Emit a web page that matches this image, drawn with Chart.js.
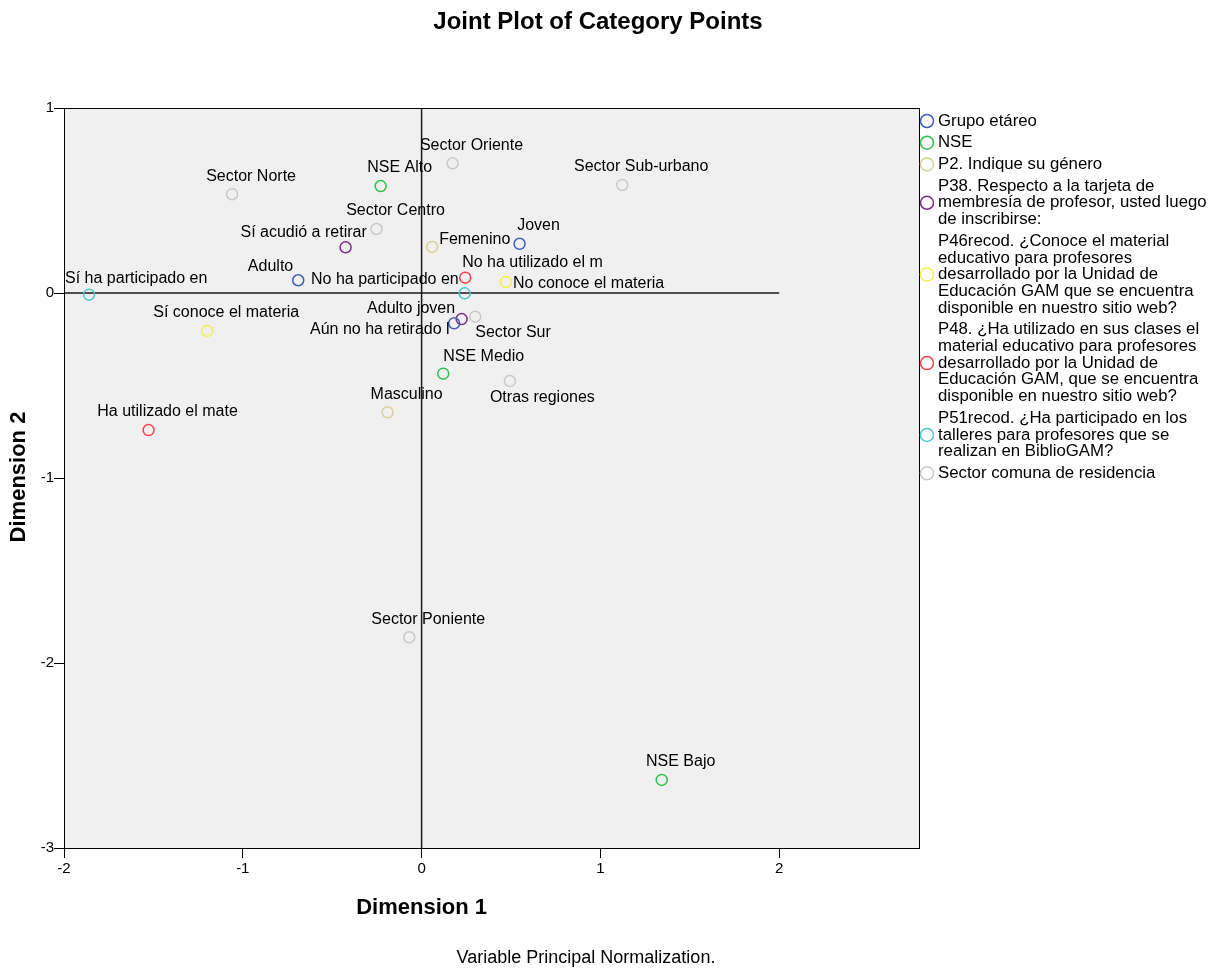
<!DOCTYPE html>
<html>
<head>
<meta charset="utf-8">
<script src="https://cdn.jsdelivr.net/npm/chart.js@4.4.1/dist/chart.umd.min.js"></script>
<style>
  body { margin: 0; background: #fff; }
  #wrap { width: 1217px; height: 969px; }
</style>
</head>
<body>
<div id="wrap"><canvas id="myChart" width="1217" height="969"></canvas></div>
<script>
// category points
const grupoCats = ['Joven', 'Adulto', 'Adulto joven'];
const grupoX = [0.548, -0.690, 0.182];
const grupoY = [0.266, 0.069, -0.164];

const nseCats = ['NSE Alto', 'NSE Medio', 'NSE Bajo'];
const nseX = [-0.229, 0.121, 1.343];
const nseY = [0.578, -0.436, -2.632];

const generoCats = ['Femenino', 'Masculino'];
const generoX = [0.059, -0.190];
const generoY = [0.249, -0.645];

const p38Cats = ['Sí acudió a retirar', 'Aún no ha retirado l'];
const p38X = [-0.425, 0.224];
const p38Y = [0.247, -0.141];

const p46Cats = ['Sí conoce el materia', 'No conoce el materia'];
const p46X = [-1.199, 0.472];
const p46Y = [-0.205, 0.059];

const p48Cats = ['Ha utilizado el mate', 'No ha utilizado el m'];
const p48X = [-1.527, 0.244];
const p48Y = [-0.741, 0.083];

const p51Cats = ['Sí ha participado en', 'No ha participado en'];
const p51X = [-1.860, 0.241];
const p51Y = [-0.009, -0.002];

const sectorCats = ['Sector Norte', 'Sector Oriente', 'Sector Sub-urbano', 'Sector Centro', 'Sector Sur', 'Otras regiones', 'Sector Poniente'];
const sectorX = [-1.060, 0.173, 1.122, -0.252, 0.300, 0.494, -0.069];
const sectorY = [0.534, 0.701, 0.584, 0.346, -0.128, -0.476, -1.861];

const groupNames = [
  ['Grupo etáreo'],
  ['NSE'],
  ['P2. Indique su género'],
  ['P38. Respecto a la tarjeta de', 'membresía de profesor, usted luego', 'de inscribirse:'],
  ['P46recod. ¿Conoce el material', 'educativo para profesores', 'desarrollado por la Unidad de', 'Educación GAM que se encuentra', 'disponible en nuestro sitio web?'],
  ['P48. ¿Ha utilizado en sus clases el', 'material educativo para profesores', 'desarrollado por la Unidad de', 'Educación GAM, que se encuentra', 'disponible en nuestro sitio web?'],
  ['P51recod. ¿Ha participado en los', 'talleres para profesores que se', 'realizan en BiblioGAM?'],
  ['Sector comuna de residencia']
];

const xTicks = [-2, -1, 0, 1, 2];
const yTicks = [1, 0, -1, -2, -3];

const colors = ['#3f5dbd', '#2fbf4c', '#d8cf98', '#7b2c86', '#f6f04e', '#f0424c', '#4dc6cb', '#c9c9c9'];
const FONT = "'Liberation Sans', Arial, sans-serif";

// where each label sits relative to its point (pixels)
const labelDefault = { align: 'center', dx: 19, dy: -18 };
const labelPlace = {
  'Adulto': { align: 'right', dx: -5, dy: -14 },
  'Adulto joven': { align: 'right', dx: 1, dy: -15 },
  'Aún no ha retirado l': { align: 'right', dx: -12, dy: 11 },
  'Sí acudió a retirar': { align: 'center', dx: -42, dy: -15 },
  'No ha participado en': { align: 'right', dx: -6, dy: -14 },
  'NSE Medio': { align: 'left', dx: 0, dy: -17 },
  'Femenino': { align: 'left', dx: 7, dy: -7 },
  'No conoce el materia': { align: 'left', dx: 7, dy: 2 },
  'No ha utilizado el m': { align: 'left', dx: -3, dy: -15 },
  'Sí ha participado en': { align: 'left', dx: -24, dy: -16 },
  'Sector Sur': { align: 'left', dx: 0, dy: 16 },
  'Otras regiones': { align: 'left', dx: -20, dy: 17 }
};

const groups = [
  [grupoCats, grupoX, grupoY],
  [nseCats, nseX, nseY],
  [generoCats, generoX, generoY],
  [p38Cats, p38X, p38Y],
  [p46Cats, p46X, p46Y],
  [p48Cats, p48X, p48Y],
  [p51Cats, p51X, p51Y],
  [sectorCats, sectorX, sectorY]
];

const datasets = groups.map((g, i) => ({
  label: groupNames[i].join(' '),
  cats: g[0],
  data: g[1].map((x, j) => ({ x: x, y: g[2][j] })),
  borderColor: colors[i],
  backgroundColor: 'rgba(0,0,0,0)',
  pointRadius: 5.5,
  pointBorderWidth: 1.5,
  pointStyle: 'circle'
}));

const decor = {
  id: 'decor',
  beforeDraw(chart) {
    const ctx = chart.ctx, a = chart.chartArea;
    ctx.save();
    ctx.fillStyle = '#fff';
    ctx.fillRect(0, 0, chart.width, chart.height);
    ctx.fillStyle = '#f0f0f0';
    ctx.fillRect(a.left, a.top, a.right - a.left, a.bottom - a.top);
    ctx.restore();
  },
  beforeDatasetsDraw(chart) {
    const ctx = chart.ctx, xs = chart.scales.x, ys = chart.scales.y;
    ctx.save();
    ctx.strokeStyle = '#1a1a1a';
    ctx.lineWidth = 1.5;
    ctx.beginPath();
    ctx.moveTo(xs.getPixelForValue(-2), ys.getPixelForValue(0));
    ctx.lineTo(xs.getPixelForValue(2), ys.getPixelForValue(0));
    ctx.moveTo(xs.getPixelForValue(0), ys.getPixelForValue(1));
    ctx.lineTo(xs.getPixelForValue(0), ys.getPixelForValue(-3));
    ctx.stroke();
    ctx.restore();
  },
  afterDraw(chart) {
    const ctx = chart.ctx, a = chart.chartArea;
    ctx.save();
    ctx.strokeStyle = '#000';
    ctx.lineWidth = 1;
    ctx.strokeRect(a.left + 0.5, a.top + 0.5, a.right - a.left, a.bottom - a.top);

    // point labels
    ctx.fillStyle = '#000';
    ctx.font = '16px ' + FONT;
    ctx.textBaseline = 'middle';
    chart.data.datasets.forEach((ds, i) => {
      const meta = chart.getDatasetMeta(i);
      meta.data.forEach((pt, j) => {
        const name = ds.cats[j];
        const p = labelPlace[name] || labelDefault;
        ctx.textAlign = p.align;
        ctx.fillText(name, pt.x + p.dx, pt.y + p.dy);
      });
    });

    // legend
    const lineH = 16.7, gap = 5;
    let y = 121;
    ctx.font = '16.8px ' + FONT;
    ctx.textAlign = 'left';
    groupNames.forEach((lines, i) => {
      const my = y + (lines.length - 1) * lineH / 2;
      ctx.strokeStyle = colors[i];
      ctx.lineWidth = 1.5;
      ctx.beginPath();
      ctx.arc(927, my, 6.5, 0, Math.PI * 2);
      ctx.stroke();
      lines.forEach((t, k) => ctx.fillText(t, 938, y + k * lineH));
      y += lines.length * lineH + gap;
    });

    // titles
    ctx.textAlign = 'center';
    ctx.font = 'bold 24px ' + FONT;
    ctx.fillText('Joint Plot of Category Points', 598, 22);
    ctx.font = 'bold 22px ' + FONT;
    ctx.fillText('Dimension 1', chart.scales.x.getPixelForValue(0), 908);
    ctx.font = '18px ' + FONT;
    ctx.fillText('Variable Principal Normalization.', 586, 958);
    ctx.save();
    ctx.translate(19, 477);
    ctx.rotate(-Math.PI / 2);
    ctx.font = 'bold 22px ' + FONT;
    ctx.fillText('Dimension 2', 0, 0);
    ctx.restore();
    ctx.restore();
  }
};

const ctx = document.getElementById('myChart').getContext('2d');
new Chart(ctx, {
  type: 'scatter',
  data: { datasets: datasets },
  options: {
    responsive: false,
    animation: false,
    layout: { padding: { left: 0, top: 108, right: 298, bottom: 81 } },
    plugins: { legend: { display: false }, tooltip: { enabled: false } },
    scales: {
      x: {
        type: 'linear',
        min: -2,
        max: 2.782,
        afterBuildTicks: s => { s.ticks = xTicks.map(v => ({ value: v })); },
        afterFit: s => { s.height = 40; },
        grid: { drawOnChartArea: false, drawTicks: true, tickLength: 10, color: '#000', lineWidth: 1 },
        border: { display: true, color: '#000', width: 1 },
        ticks: { color: '#000', padding: 2, maxRotation: 0, font: { family: FONT, size: 15 } }
      },
      y: {
        type: 'linear',
        min: -3,
        max: 1,
        afterBuildTicks: s => { s.ticks = yTicks.map(v => ({ value: v })); },
        afterFit: s => { s.width = 64; },
        grid: { drawOnChartArea: false, drawTicks: true, tickLength: 10, color: '#000', lineWidth: 1 },
        border: { display: true, color: '#000', width: 1 },
        ticks: { color: '#000', padding: 0, font: { family: FONT, size: 15 } }
      }
    }
  },
  plugins: [decor]
});
</script>
</body>
</html>
